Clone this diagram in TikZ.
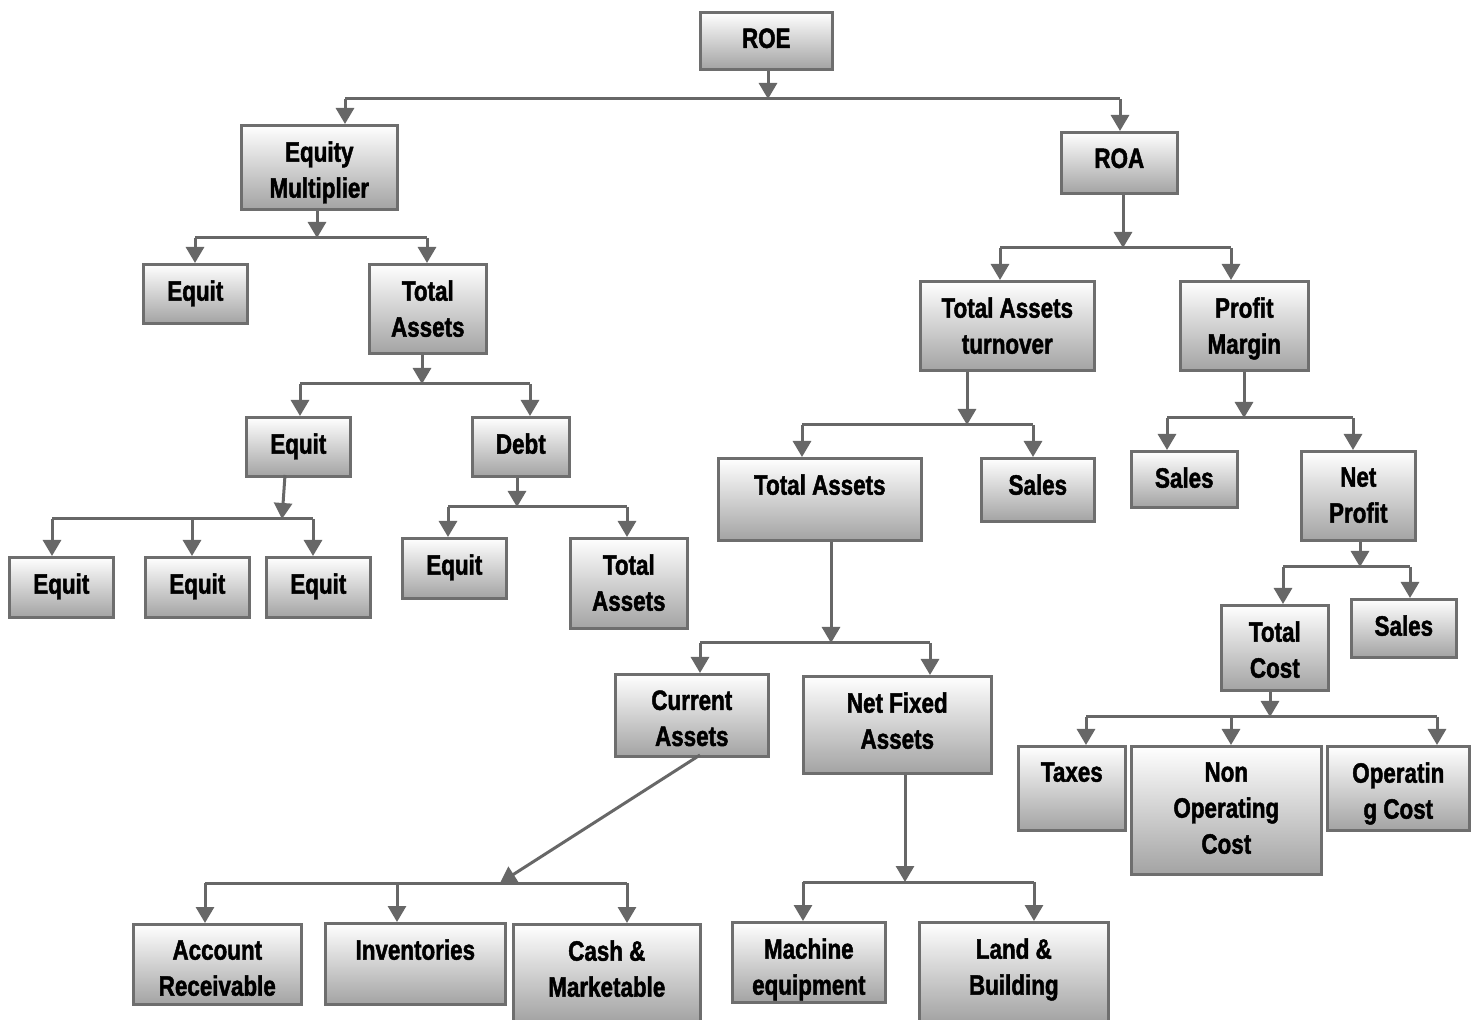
\documentclass[tikz,border=0pt]{standalone}
\usepackage{fontspec}
\setmainfont{Liberation Sans}[FakeStretch=0.8, BoldFeatures={FakeBold=1.6}]
\usetikzlibrary{arrows.meta}

\definecolor{boxline}{HTML}{6E6E6E}
\definecolor{arrline}{HTML}{676767}

\tikzset{
  box/.style={draw=boxline, line width=1.3pt, top color=white, bottom color=black!36,
    rectangle, inner sep=0pt},
  boxtext/.style={anchor=north, inner sep=0pt, align=center,
    font=\fontsize{14}{18}\selectfont\bfseries},
  line/.style={draw=arrline, line width=1.5pt},
  arr/.style={line, -{Triangle[width=9pt,length=8pt]}}
}

% box from (x1,y1) to (x2,y2) in pixels, text near the top
\newcommand{\flowbox}[6]{%
  \node[box, anchor=north west, minimum width={(#4-#2)*0.5pt},
    minimum height={(#5-#3)*0.5pt}] (#1) at (#2,#3) {};
  \node[boxtext] (#1-t) at ([yshift=-8.5pt]#1.north) {#6};
}

\begin{document}
\begin{tikzpicture}[x=0.5pt, y=-0.5pt]
\useasboundingbox (0,0) rectangle (1478,1020);
% Boxes, left branch
\flowbox{roe}{699}{11}{831}{68}{ROE}
\flowbox{eqm}{240}{124}{396}{208}{Equity\\Multiplier}
\flowbox{eqa}{142}{263}{246}{322}{Equit}
\flowbox{taa}{368}{263}{485}{352}{Total\\Assets}
\flowbox{eqb}{245}{416}{349}{475}{Equit}
\flowbox{debt}{471}{416}{568}{475}{Debt}
\flowbox{eqc}{8}{556}{112}{616}{Equit}
\flowbox{eqd}{144}{556}{248}{616}{Equit}
\flowbox{eqe}{265}{556}{369}{616}{Equit}
\flowbox{eqf}{401}{537}{505}{597}{Equit}
\flowbox{tab}{569}{537}{686}{627}{Total\\Assets}
% Boxes, right branch
\flowbox{roa}{1060}{131}{1176}{192}{ROA}
\flowbox{tat}{919}{280}{1093}{369}{Total Assets\\turnover}
\flowbox{pm}{1179}{280}{1307}{369}{Profit\\Margin}
\flowbox{tac}{717}{457}{920}{539}{Total Assets}
\flowbox{salesa}{980}{457}{1093}{520}{Sales}
\flowbox{salesb}{1130}{450}{1236}{506}{Sales}
\flowbox{np}{1300}{450}{1414}{539}{Net\\Profit}
\flowbox{tc}{1220}{604}{1327}{689}{Total\\Cost}
\flowbox{salesc}{1350}{598}{1455}{656}{Sales}
\flowbox{tax}{1017}{745}{1124}{829}{Taxes}
\flowbox{nonop}{1130}{745}{1320}{873}{Non\\Operating\\Cost}
\flowbox{opc}{1326}{745}{1468}{829}{Operatin\\g Cost}
\flowbox{ca}{614}{673}{767}{755}{Current\\Assets}
\flowbox{nfa}{802}{675}{990}{772}{Net Fixed\\Assets}
\flowbox{ar}{132}{923}{300}{1003}{Account\\Receivable}
\flowbox{inv}{324}{922}{504}{1003}{Inventories}
\flowbox{cash}{512}{923}{699}{1020}{Cash \&\\Marketable}
\flowbox{mach}{731}{921}{884}{1001}{Machine\\equipment}
\flowbox{land}{918}{921}{1107}{1020}{Land \&\\Building}

% ROE
\coordinate (roe-m) at (768,99);
\coordinate (roe-l) at (345,99);
\coordinate (roe-r) at (1120,99);
\draw[arr] (roe-m |- roe.south) -- (roe-m);
\draw[line] (roe-l) -- (roe-r);
\draw[arr] (roe-l) -- (roe-l |- eqm.north);
\draw[arr] (roe-r) -- (roe-r |- roa.north);
% Equity multiplier
\coordinate (eqm-m) at (317,238);
\coordinate (eqm-l) at (195,238);
\coordinate (eqm-r) at (427,238);
\draw[arr] (eqm-m |- eqm.south) -- (eqm-m);
\draw[line] (eqm-l) -- (eqm-r);
\draw[arr] (eqm-l) -- (eqm-l |- eqa.north);
\draw[arr] (eqm-r) -- (eqm-r |- taa.north);
% Total assets
\coordinate (taa-m) at (422,384);
\coordinate (taa-l) at (300,384);
\coordinate (taa-r) at (530,384);
\draw[arr] (taa-m |- taa.south) -- (taa-m);
\draw[line] (taa-l) -- (taa-r);
\draw[arr] (taa-l) -- (taa-l |- eqb.north);
\draw[arr] (taa-r) -- (taa-r |- debt.north);
% Equit
\coordinate (eqb-s) at (285,475);
\coordinate (eqb-m) at (282,519);
\coordinate (eqb-l) at (52,519);
\coordinate (eqb-c) at (192,519);
\coordinate (eqb-r) at (313,519);
\draw[arr] (eqb-s) -- (eqb-m);
\draw[line] (eqb-l) -- (eqb-r);
\draw[arr] (eqb-l) -- (eqb-l |- eqc.north);
\draw[arr] (eqb-c) -- (eqb-c |- eqd.north);
\draw[arr] (eqb-r) -- (eqb-r |- eqe.north);
% Debt
\coordinate (debt-m) at (517,507);
\coordinate (debt-l) at (448,507);
\coordinate (debt-r) at (627,507);
\draw[arr] (debt-m |- debt.south) -- (debt-m);
\draw[line] (debt-l) -- (debt-r);
\draw[arr] (debt-l) -- (debt-l |- eqf.north);
\draw[arr] (debt-r) -- (debt-r |- tab.north);
% ROA
\coordinate (roa-m) at (1123,248);
\coordinate (roa-l) at (1000,248);
\coordinate (roa-r) at (1231,248);
\draw[arr] (roa-m |- roa.south) -- (roa-m);
\draw[line] (roa-l) -- (roa-r);
\draw[arr] (roa-l) -- (roa-l |- tat.north);
\draw[arr] (roa-r) -- (roa-r |- pm.north);
% Total assets turnover
\coordinate (tat-m) at (967,425);
\coordinate (tat-l) at (802,425);
\coordinate (tat-r) at (1033,425);
\draw[arr] (tat-m |- tat.south) -- (tat-m);
\draw[line] (tat-l) -- (tat-r);
\draw[arr] (tat-l) -- (tat-l |- tac.north);
\draw[arr] (tat-r) -- (tat-r |- salesa.north);
% Profit margin
\coordinate (pm-m) at (1244,418);
\coordinate (pm-l) at (1167,418);
\coordinate (pm-r) at (1353,418);
\draw[arr] (pm-m |- pm.south) -- (pm-m);
\draw[line] (pm-l) -- (pm-r);
\draw[arr] (pm-l) -- (pm-l |- salesb.north);
\draw[arr] (pm-r) -- (pm-r |- np.north);
% Net profit
\coordinate (np-m) at (1360,567);
\coordinate (np-l) at (1283,567);
\coordinate (np-r) at (1410,567);
\draw[arr] (np-m |- np.south) -- (np-m);
\draw[line] (np-l) -- (np-r);
\draw[arr] (np-l) -- (np-l |- tc.north);
\draw[arr] (np-r) -- (np-r |- salesc.north);
% Total cost
\coordinate (tc-m) at (1270,717);
\coordinate (tc-l) at (1086,717);
\coordinate (tc-c) at (1231,717);
\coordinate (tc-r) at (1437,717);
\draw[arr] (tc-m |- tc.south) -- (tc-m);
\draw[line] (tc-l) -- (tc-r);
\draw[arr] (tc-l) -- (tc-l |- tax.north);
\draw[arr] (tc-c) -- (tc-c |- nonop.north);
\draw[arr] (tc-r) -- (tc-r |- opc.north);
% Total assets (middle)
\coordinate (tac-m) at (831,643);
\coordinate (tac-l) at (700,643);
\coordinate (tac-r) at (930,643);
\draw[arr] (tac-m |- tac.south) -- (tac-m);
\draw[line] (tac-l) -- (tac-r);
\draw[arr] (tac-l) -- (tac-l |- ca.north);
\draw[arr] (tac-r) -- (tac-r |- nfa.north);
% Current assets
\coordinate (ca-s) at (700,755);
\coordinate (ca-m) at (500,883);
\coordinate (ca-l) at (205,883);
\coordinate (ca-c) at (397,883);
\coordinate (ca-r) at (627,883);
\draw[arr] (ca-s) -- (ca-m);
\draw[line] (ca-l) -- (ca-r);
\draw[arr] (ca-l) -- (ca-l |- ar.north);
\draw[arr] (ca-c) -- (ca-c |- inv.north);
\draw[arr] (ca-r) -- (ca-r |- cash.north);
% Net fixed assets
\coordinate (nfa-m) at (905,882);
\coordinate (nfa-l) at (803,882);
\coordinate (nfa-r) at (1034,882);
\draw[arr] (nfa-m |- nfa.south) -- (nfa-m);
\draw[line] (nfa-l) -- (nfa-r);
\draw[arr] (nfa-l) -- (nfa-l |- mach.north);
\draw[arr] (nfa-r) -- (nfa-r |- land.north);
\end{tikzpicture}
\end{document}
